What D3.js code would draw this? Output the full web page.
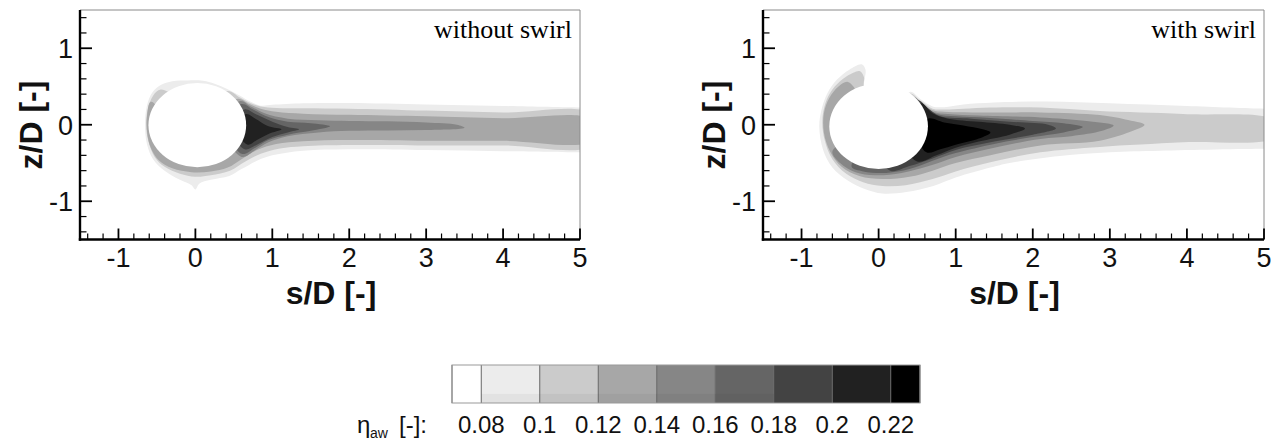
<!DOCTYPE html>
<html><head><meta charset="utf-8">
<script src="https://cdn.jsdelivr.net/npm/d3@7"></script>
<style>body{margin:0;background:#fff;} svg{display:block;}</style>
</head><body>
<svg id="chart" width="1277" height="442"></svg>
<script>
// ---------- axes ----------
const sDomain = [-1.5, 5];
const zDomain = [-1.5, 1.5];
const sMajorTicks = [-1, 0, 1, 2, 3, 4, 5];
const zMajorTicks = [-1, 0, 1];
const sMinorTicks = [-1.4,-1.2,-0.8,-0.6,-0.4,-0.2,0.2,0.4,0.6,0.8,1.2,1.4,1.6,1.8,2.2,2.4,2.6,2.8,3.2,3.4,3.6,3.8,4.2,4.4,4.6,4.8];
const zMinorTicks = [-1.4,-1.2,-0.8,-0.6,-0.4,-0.2,0.2,0.4,0.6,0.8,1.2,1.4];
const panelTitles = ["without swirl", "with swirl"];
const sTitle = "s/D [-]";
const zTitle = "z/D [-]";

// ---------- contour levels ----------
const levelValues = [0.08, 0.1, 0.12, 0.14, 0.16, 0.18, 0.2, 0.22];
const levelLabels = ["0.08", "0.1", "0.12", "0.14", "0.16", "0.18", "0.2", "0.22"];
const levelGrays = ["#ececec", "#cbcbcb", "#a7a7a7", "#868686", "#656565", "#434343", "#212121", "#000000"];
const legendEdges = [0.07, 0.23];

// ---------- without swirl: hole [s, z, rs, rz] and level outlines [s, z] ----------
const noSwirlHole = [0.025, -0.005, 0.635, 0.55];
const noSwirl08 = [[0.1,0.575],[-0.1,0.58],[-0.3,0.57],[-0.45,0.52],[-0.56,0.42],[-0.63,0.25],[-0.655,0.0],[-0.63,-0.25],[-0.55,-0.45],[-0.4,-0.6],[-0.2,-0.72],[-0.05,-0.79],[0.0,-0.845],[0.05,-0.77],[0.2,-0.72],[0.44,-0.67],[0.6,-0.58],[0.8,-0.47],[1.0,-0.4],[1.4,-0.34],[2.0,-0.32],[3.0,-0.33],[4.0,-0.345],[5.0,-0.36],[5.15,-0.36],[5.15,0.225],[5.0,0.225],[4.0,0.245],[3.0,0.265],[2.0,0.285],[1.4,0.28],[1.0,0.26],[0.85,0.25],[0.72,0.3],[0.58,0.38],[0.42,0.465],[0.25,0.535]];
const noSwirl10 = [[-0.45,0.46],[-0.55,0.38],[-0.62,0.2],[-0.64,0.0],[-0.61,-0.22],[-0.53,-0.42],[-0.4,-0.55],[-0.2,-0.64],[0.0,-0.68],[0.2,-0.66],[0.45,-0.6],[0.65,-0.48],[0.85,-0.38],[1.1,-0.31],[1.4,-0.28],[2.0,-0.265],[3.0,-0.27],[4.0,-0.27],[5.15,-0.27],[5.15,0.14],[4.0,0.16],[3.0,0.185],[2.0,0.21],[1.4,0.215],[1.05,0.22],[0.85,0.24],[0.72,0.28],[0.58,0.355],[0.42,0.44],[0.25,0.3],[-0.1,0.3]];
const noSwirl12 = [[-0.58,0.3],[-0.63,0.1],[-0.625,-0.12],[-0.58,-0.3],[-0.48,-0.46],[-0.3,-0.57],[-0.05,-0.62],[0.2,-0.61],[0.42,-0.56],[0.6,-0.45],[0.8,-0.33],[1.05,-0.25],[1.4,-0.215],[2.0,-0.2],[3.0,-0.21],[4.0,-0.21],[5.15,-0.21],[5.15,0.065],[4.0,0.085],[3.0,0.11],[2.0,0.13],[1.4,0.145],[1.05,0.17],[0.85,0.21],[0.7,0.27],[0.56,0.34],[0.35,0.25],[0.0,0.0],[-0.4,0.15]];
const noSwirl14 = [[0.58,0.31],[0.72,0.24],[0.9,0.15],[1.2,0.08],[1.6,0.06],[2.0,0.05],[2.5,0.045],[3.0,0.03],[3.4,0.0],[3.5,-0.04],[3.0,-0.07],[2.5,-0.075],[2.0,-0.08],[1.6,-0.1],[1.2,-0.15],[0.95,-0.23],[0.78,-0.33],[0.6,-0.42],[0.35,0.0]];
const noSwirl16 = [[0.6,0.27],[0.75,0.2],[0.95,0.1],[1.2,0.04],[1.5,0.02],[1.75,-0.02],[1.5,-0.08],[1.2,-0.13],[0.95,-0.2],[0.78,-0.3],[0.6,-0.38],[0.4,0.0]];
const noSwirl18 = [[0.64,0.2],[0.78,0.14],[1.0,0.04],[1.2,-0.03],[1.35,-0.06],[1.2,-0.1],[1.0,-0.16],[0.8,-0.26],[0.64,-0.32],[0.45,0.0]];
const noSwirl20 = [[0.66,0.14],[0.78,0.08],[0.95,-0.02],[1.12,-0.06],[0.95,-0.12],[0.8,-0.2],[0.68,-0.26],[0.5,0.0]];

// ---------- with swirl ----------
const swirlHole = [0.0, -0.02, 0.64, 0.56];
const swirl08 = [[-0.22,0.79],[-0.17,0.72],[-0.18,0.6],[-0.19,0.5],[0.0,0.2],[0.3,0.3],[0.41,0.43],[0.55,0.33],[0.7,0.24],[0.85,0.23],[1.1,0.265],[1.5,0.29],[2.2,0.305],[3.0,0.28],[4.0,0.245],[5.0,0.21],[5.15,0.21],[5.15,-0.315],[5.0,-0.315],[3.65,-0.34],[3.0,-0.36],[2.35,-0.41],[1.7,-0.5],[1.45,-0.56],[1.0,-0.69],[0.71,-0.8],[0.36,-0.88],[0.05,-0.9],[-0.18,-0.84],[-0.4,-0.73],[-0.6,-0.56],[-0.72,-0.33],[-0.77,-0.02],[-0.74,0.2],[-0.66,0.42],[-0.54,0.59],[-0.38,0.72]];
const swirl10 = [[-0.24,0.7],[-0.19,0.62],[-0.19,0.5],[0.0,0.2],[0.3,0.3],[0.41,0.41],[0.55,0.31],[0.7,0.21],[0.85,0.2],[1.1,0.21],[1.45,0.226],[2.1,0.226],[2.87,0.18],[3.95,0.14],[5.15,0.052],[5.15,-0.164],[3.95,-0.23],[2.87,-0.29],[2.1,-0.36],[1.45,-0.49],[1.0,-0.61],[0.7,-0.71],[0.35,-0.79],[0.05,-0.8],[-0.2,-0.75],[-0.42,-0.64],[-0.6,-0.45],[-0.7,-0.2],[-0.73,0.05],[-0.69,0.28],[-0.6,0.46],[-0.46,0.6],[-0.33,0.68]];
const swirl12 = [[0.41,0.39],[0.55,0.29],[0.7,0.19],[0.85,0.17],[1.45,0.16],[2.1,0.16],[2.87,0.126],[3.2,0.07],[3.45,0.0],[3.3,-0.08],[2.87,-0.21],[2.1,-0.27],[1.45,-0.4],[1.0,-0.5],[0.7,-0.6],[0.4,-0.68],[0.05,-0.71],[-0.25,-0.67],[-0.48,-0.55],[-0.63,-0.35],[-0.71,-0.1],[-0.71,0.15],[-0.64,0.35],[-0.52,0.5],[-0.4,0.56],[-0.25,0.4],[0.0,0.1],[0.3,0.3]];
const swirl14 = [[0.42,0.38],[0.55,0.28],[0.7,0.17],[0.9,0.14],[1.3,0.12],[2.1,0.096],[2.7,0.05],[3.05,-0.01],[2.9,-0.08],[2.5,-0.15],[2.1,-0.186],[1.5,-0.3],[1.0,-0.42],[0.65,-0.54],[0.3,-0.63],[-0.05,-0.66],[-0.3,-0.62],[-0.5,-0.5],[-0.6,-0.35],[-0.4,-0.2],[0.2,0.0]];
const swirl16 = [[0.45,0.36],[0.6,0.24],[0.75,0.14],[1.0,0.11],[1.4,0.09],[2.0,0.05],[2.4,0.02],[2.65,-0.03],[2.4,-0.1],[2.0,-0.16],[1.5,-0.25],[1.0,-0.37],[0.7,-0.47],[0.4,-0.58],[0.1,-0.63],[-0.2,-0.61],[-0.35,-0.55],[-0.2,-0.3],[0.3,0.0]];
const swirl18 = [[0.5,0.32],[0.66,0.2],[0.8,0.11],[1.2,0.08],[1.7,0.04],[2.2,0.0],[2.3,-0.05],[2.0,-0.13],[1.5,-0.22],[1.0,-0.33],[0.7,-0.44],[0.4,-0.54],[0.15,-0.6],[0.0,-0.3],[0.3,0.0]];
const swirl20 = [[0.55,0.28],[0.7,0.15],[0.9,0.08],[1.3,0.04],[1.7,0.0],[1.9,-0.05],[1.7,-0.13],[1.3,-0.22],[1.0,-0.3],[0.75,-0.4],[0.5,-0.48],[0.3,-0.2],[0.4,0.1]];
const swirl22 = [[0.64,0.08],[0.85,0.03],[1.1,-0.01],[1.35,-0.06],[1.45,-0.1],[1.3,-0.18],[1.0,-0.26],[0.8,-0.32],[0.62,-0.36],[0.5,-0.1]];

// ---------- layout ----------
const panels = [
  { left: 80, right: 580, hole: noSwirlHole, title: panelTitles[0],
    fields: [noSwirl08, noSwirl10, noSwirl12, noSwirl14, noSwirl16, noSwirl18, noSwirl20] },
  { left: 763, right: 1264, hole: swirlHole, title: panelTitles[1],
    fields: [swirl08, swirl10, swirl12, swirl14, swirl16, swirl18, swirl20, swirl22] }
];
const plotTop = 10, plotBottom = 239.5;
const tickFont = "'Liberation Sans', Arial, sans-serif";

const svg = d3.select("#chart");
const defs = svg.append("defs");

panels.forEach((p, pi) => {
  const x = d3.scaleLinear().domain(sDomain).range([p.left, p.right]);
  const y = d3.scaleLinear().domain(zDomain).range([plotBottom, plotTop]);
  const g = svg.append("g");

  defs.append("clipPath").attr("id", "clip" + pi)
    .append("rect").attr("x", p.left).attr("y", plotTop)
    .attr("width", p.right - p.left).attr("height", plotBottom - plotTop);

  const field = g.append("g").attr("clip-path", `url(#clip${pi})`);
  const line = d3.line().x(d => x(d[0])).y(d => y(d[1]))
    .curve(d3.curveCatmullRomClosed.alpha(0.5));
  p.fields.forEach((poly, li) => {
    field.append("path").attr("d", line(poly)).attr("fill", levelGrays[li]).attr("stroke", "none");
  });
  const h = p.hole;
  field.append("ellipse")
    .attr("cx", x(h[0])).attr("cy", y(h[1]))
    .attr("rx", x(h[0] + h[2]) - x(h[0])).attr("ry", y(h[1]) - y(h[1] + h[3]))
    .attr("fill", "#fff");

  // frame top & right
  g.append("line").attr("x1", p.left).attr("x2", p.right).attr("y1", plotTop).attr("y2", plotTop)
    .attr("stroke", "#8a8a8a").attr("stroke-width", 1);
  g.append("line").attr("x1", p.right).attr("x2", p.right).attr("y1", plotTop).attr("y2", plotBottom)
    .attr("stroke", "#8a8a8a").attr("stroke-width", 1);

  // ticks (inward)
  g.selectAll(".xmaj").data(sMajorTicks).join("line")
    .attr("x1", d => x(d)).attr("x2", d => x(d)).attr("y1", plotBottom).attr("y2", plotBottom - 11)
    .attr("stroke", "#000").attr("stroke-width", 1.8);
  g.selectAll(".xmin").data(sMinorTicks).join("line")
    .attr("x1", d => x(d)).attr("x2", d => x(d)).attr("y1", plotBottom).attr("y2", plotBottom - 6)
    .attr("stroke", "#000").attr("stroke-width", 1.2);
  g.selectAll(".ymaj").data(zMajorTicks).join("line")
    .attr("x1", p.left).attr("x2", p.left + 12).attr("y1", d => y(d)).attr("y2", d => y(d))
    .attr("stroke", "#000").attr("stroke-width", 1.8);
  g.selectAll(".ymin").data(zMinorTicks).join("line")
    .attr("x1", p.left).attr("x2", p.left + 6.5).attr("y1", d => y(d)).attr("y2", d => y(d))
    .attr("stroke", "#000").attr("stroke-width", 1.2);

  // axes lines
  g.append("line").attr("x1", p.left).attr("x2", p.left).attr("y1", plotTop).attr("y2", plotBottom + 1.2)
    .attr("stroke", "#000").attr("stroke-width", 2.4);
  g.append("line").attr("x1", p.left - 1.2).attr("x2", p.right).attr("y1", plotBottom).attr("y2", plotBottom)
    .attr("stroke", "#000").attr("stroke-width", 2.4);

  // tick labels
  g.selectAll(".xl").data(sMajorTicks).join("text")
    .attr("x", d => x(d)).attr("y", 267).attr("text-anchor", "middle")
    .attr("font-family", tickFont).attr("font-size", 27).attr("fill", "#111")
    .text(d => d);
  g.selectAll(".yl").data(zMajorTicks).join("text")
    .attr("x", p.left - 7).attr("y", d => y(d) + 10).attr("text-anchor", "end")
    .attr("font-family", tickFont).attr("font-size", 27).attr("fill", "#111")
    .text(d => d);

  // axis titles
  g.append("text").attr("x", (p.left + p.right) / 2 + 1).attr("y", 304)
    .attr("text-anchor", "middle").attr("font-family", tickFont).attr("font-weight", "bold")
    .attr("font-size", 32).attr("fill", "#111").text(sTitle);
  g.append("text").attr("transform", `translate(${p.left - 38},125) rotate(-90)`)
    .attr("text-anchor", "middle").attr("font-family", tickFont).attr("font-weight", "bold")
    .attr("font-size", 32).attr("fill", "#111").text(zTitle);

  // panel title
  g.append("text").attr("x", p.right - 8).attr("y", 38).attr("text-anchor", "end")
    .attr("font-family", "'Liberation Serif', 'Times New Roman', serif")
    .attr("font-size", 26).attr("fill", "#000").text(p.title);
});

// ---------- legend ----------
const lx = d3.scaleLinear().domain(legendEdges).range([452, 920]);
const legY = 365, legH = 38;
const cellEdges = [legendEdges[0]].concat(levelValues, [legendEdges[1]]);
const cellColors = ["#ffffff"].concat(levelGrays);
const leg = svg.append("g");
for (let i = 0; i < cellColors.length; i++) {
  const x0 = lx(cellEdges[i]), x1 = lx(cellEdges[i + 1]);
  leg.append("rect").attr("x", x0).attr("y", legY).attr("width", x1 - x0).attr("height", legH)
    .attr("fill", cellColors[i]);
  if (i > 0 && i < 6) {
    const c = d3.color(cellColors[i]).darker(0.12);
    leg.append("rect").attr("x", x0).attr("y", legY + legH * 0.76).attr("width", x1 - x0)
      .attr("height", legH * 0.24).attr("fill", c);
  }
}
for (let i = 0; i < cellEdges.length; i++) {
  leg.append("line").attr("x1", lx(cellEdges[i])).attr("x2", lx(cellEdges[i]))
    .attr("y1", legY).attr("y2", legY + legH).attr("stroke", "#666").attr("stroke-width", 1);
}
leg.append("rect").attr("x", lx(legendEdges[0])).attr("y", legY)
  .attr("width", lx(legendEdges[1]) - lx(legendEdges[0])).attr("height", legH)
  .attr("fill", "none").attr("stroke", "#999").attr("stroke-width", 1);
leg.selectAll(".ll").data(levelValues).join("text")
  .attr("x", d => lx(d)).attr("y", 433).attr("text-anchor", "middle")
  .attr("font-family", tickFont).attr("font-size", 24).attr("fill", "#111")
  .text((d, i) => levelLabels[i]);
const lt = leg.append("text").attr("y", 433)
  .attr("font-family", tickFont).attr("font-size", 24).attr("fill", "#111");
lt.append("tspan").attr("x", 357).text("η");
lt.append("tspan").attr("x", 370).attr("font-size", 14).attr("dy", 5).text("aw");
lt.append("tspan").attr("x", 399).attr("dy", -5).text("[-]:");
lt.append("tspan").attr("x", 399).attr("dy", 0).text("");
</script>
</body></html>
